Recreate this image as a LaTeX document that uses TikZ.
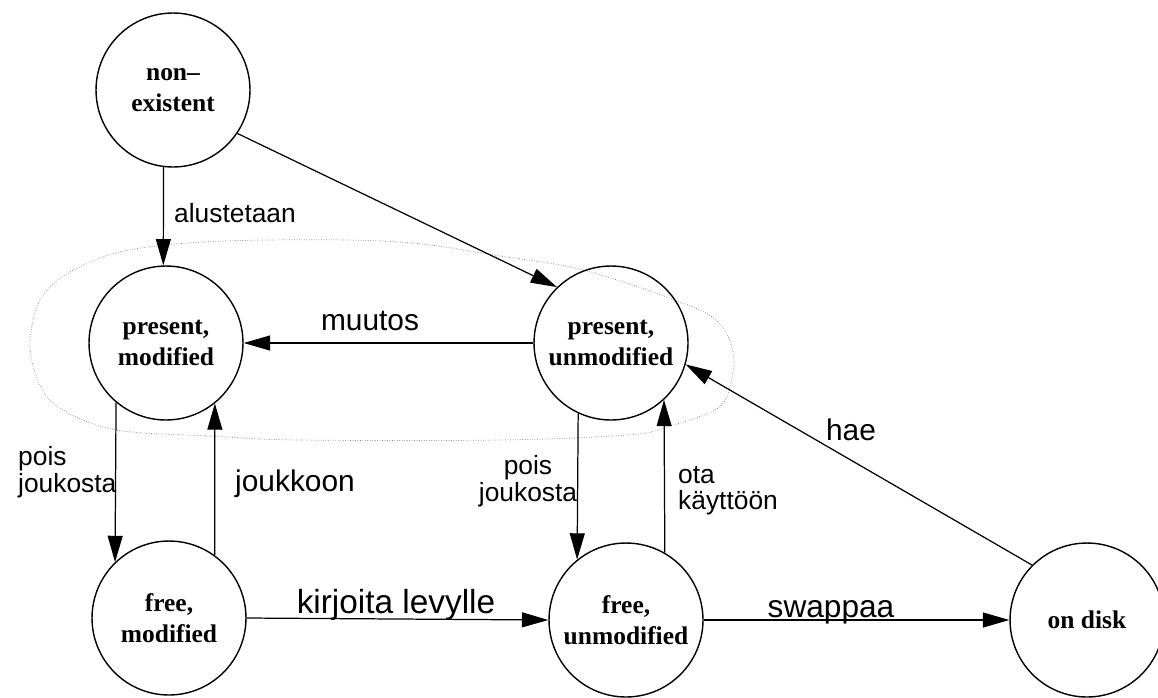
\documentclass[tikz,border=0pt]{standalone}
\usepackage{fontspec}
\setmainfont{Liberation Serif}
\newfontfamily\handfont{Liberation Sans}
\usetikzlibrary{arrows.meta}
\tikzset{
  state/.style={draw,circle,line width=0.8pt,minimum size=3.08cm,inner sep=0pt,align=center,font=\fontsize{14.5}{18}\selectfont\bfseries},
  trans/.style={line width=0.7pt,-{Triangle[length=15pt,width=8.5pt]}},
  hand/.style={font=\handfont\fontsize{#1}{#1}\selectfont},
  hand/.default=16
}
\begin{document}
\begin{tikzpicture}[x=0.02cm,y=-0.02cm]
\path[use as bounding box,clip] (0,0) rectangle (1158,697);

\draw[gray,densely dotted,line width=0.4pt] plot[smooth cycle,tension=0.6] coordinates {(30,340) (47,290) (100,258) (165,245) (267,240) (400,242) (500,256) (583,270) (680,302) (718,322) (733,352) (731,382) (718,408) (667,427) (627,435) (500,440) (300,440) (210,436) (117,430) (63,410) (40,385)};

\node[state] (nonex) at (173,90) {non--\\existent};
\node[state] (pm) at (166,343) {present,\\modified};
\node[state] (pu) at (611,343) {present,\\unmodified};
\node[state] (fm) at (169,618) {free,\\modified};
\node[state] (fu) at (626,620) {free,\\unmodified};
\node[state] (disk) at (1087,620) {on disk};

\draw[trans] (nonex.-97) -- (pm.92);
\draw[trans] (nonex.-34) -- (pu.134);
\draw[trans] (pu.west) -- (pm.east);
\draw[trans] (pm.-130) -- (fm.134);
\draw[trans] (fm.54) -- (pm.-51);
\draw[trans] (pu.-115) -- (fu.129);
\draw[trans] (fu.60) -- (pu.-47);
\draw[trans] (fm.east) -- (fu.west);
\draw[trans] (fu.east) -- (disk.west);
\draw[trans] (disk.135) -- (pu.-16);

\node[hand=15] (lalust) at (235,213) {alustetaan};
\node[hand=17] (lmuut) at (370,321) {muutos};
\node[hand=15,align=left,anchor=west] (lpois) at (12,472) {pois\\joukosta};
\node[hand=17] (ljoukko) at (295,484) {joukkoon};
\node[hand=15,align=center] (lpoisb) at (528,481) {pois\\joukosta};
\node[hand=15,align=left,anchor=west] (lota) at (672,491) {ota\\käyttöön};
\node[hand=17] (lhae) at (851,430) {hae};
\node[hand=19] (lkirj) at (396,605) {kirjoita levylle};
\node[hand=18] (lswap) at (831,612) {swappaa};
\end{tikzpicture}
\end{document}
